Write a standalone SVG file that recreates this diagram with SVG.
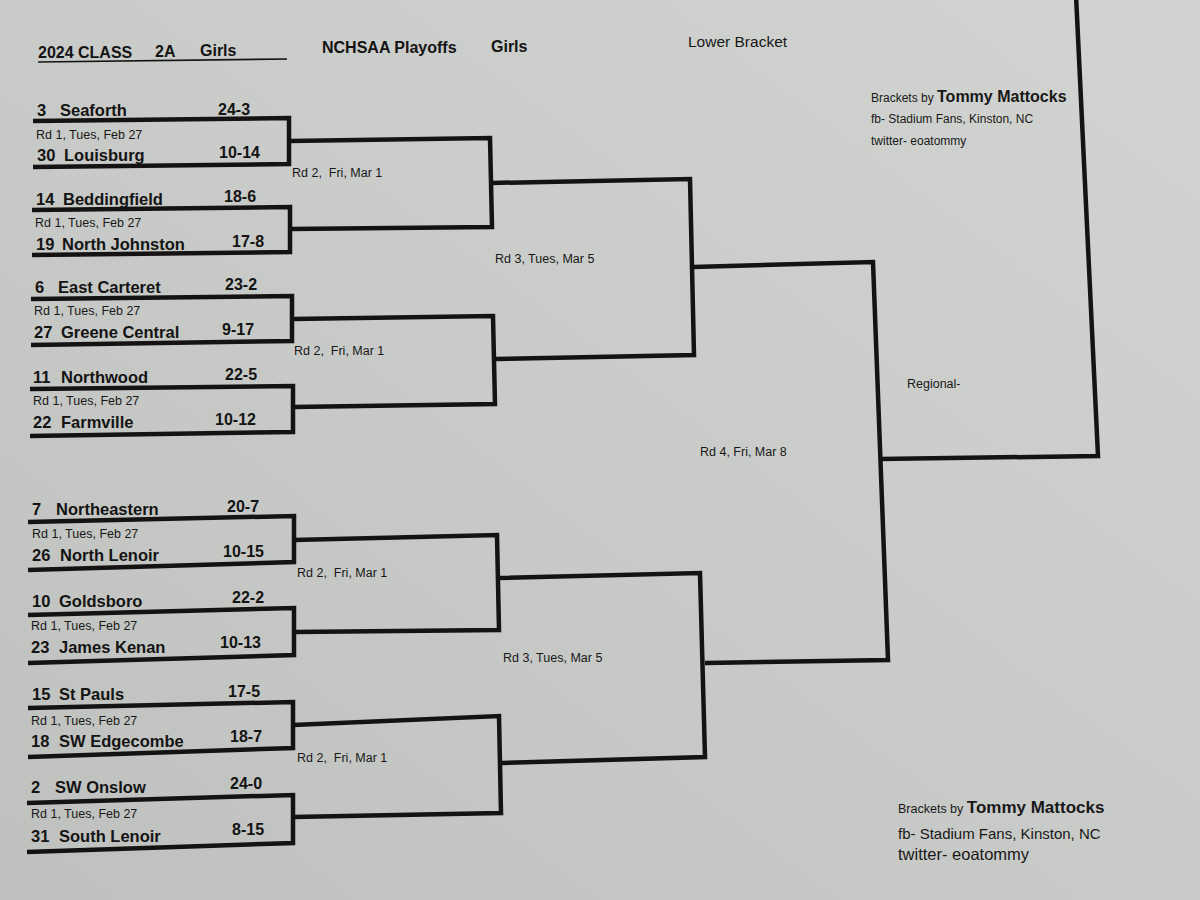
<svg xmlns="http://www.w3.org/2000/svg" width="1200" height="900" viewBox="0 0 1200 900">
<defs>
<linearGradient id="bg" x1="1" y1="0" x2="0" y2="1">
<stop offset="0" stop-color="#d2d4d1"/>
<stop offset="0.5" stop-color="#c9cbc8"/>
<stop offset="1" stop-color="#bfc1be"/>
</linearGradient>
<style>
.ln{fill:none;stroke:#141212;stroke-width:4.5;stroke-linejoin:miter}
.tm{font-family:"Liberation Sans",Arial,sans-serif;font-weight:bold;font-size:16.5px;fill:#141414}
.sc{font-family:"Liberation Sans",Arial,sans-serif;font-weight:bold;font-size:16px;fill:#141414}
.rd{font-family:"Liberation Sans",Arial,sans-serif;font-size:12.5px;fill:#181818}
.hd{font-family:"Liberation Sans",Arial,sans-serif;font-weight:bold;font-size:16px;fill:#141414}
.cr{font-family:"Liberation Sans",Arial,sans-serif;font-size:12px;fill:#181818}
</style>
</defs>
<rect x="0" y="0" width="1200" height="900" fill="url(#bg)"/>

<g id="header">
<text class="hd" x="38" y="58">2024 CLASS</text>
<text class="hd" x="155" y="57">2A</text>
<text class="hd" x="200" y="56">Girls</text>
<line x1="38" y1="62" x2="287" y2="59" stroke="#141414" stroke-width="1.6"/>
<text class="hd" x="322" y="53">NCHSAA Playoffs</text>
<text class="hd" x="491" y="52">Girls</text>
<text class="cr" x="688" y="47" style="font-size:15.5px">Lower Bracket</text>
</g>

<g id="connectors">
<polyline class="ln" points="33,121 289,118 289,164 33,167"/>
<polyline class="ln" points="32,210 290,207 290,252 32,255"/>
<polyline class="ln" points="31,299 292,296 292,341 31,345"/>
<polyline class="ln" points="30,389 293,386 293,432 30,436"/>
<polyline class="ln" points="28,522 294,516 294,562 28,570"/>
<polyline class="ln" points="28,615 294,608 294,655 28,663"/>
<polyline class="ln" points="28,708 293,702 293,748 28,757"/>
<polyline class="ln" points="27,803 293,795 293,843 27,852"/>
<polyline class="ln" points="290,141 490,138 492,227 290,229"/>
<polyline class="ln" points="292,319 493,316 495,404 293,407"/>
<polyline class="ln" points="294,540 497,535 499,630 294,632"/>
<polyline class="ln" points="293,725 499,716 501,813 293,817"/>
<polyline class="ln" points="491,183 690,179 694,355 495,359"/>
<polyline class="ln" points="498,578 700,573 705,757 502,763"/>
<polyline class="ln" points="693,267 873,262 888,660 705,663"/>
<polyline class="ln" points="880,459 1098,456 1076,-5"/>
</g>

<g id="m1">
<text class="tm" y="116"><tspan x="37">3</tspan><tspan x="60">Seaforth</tspan></text>
<text class="sc" x="218" y="115">24-3</text>
<text class="rd" x="36" y="139">Rd 1, Tues, Feb 27</text>
<text class="tm" y="161"><tspan x="37">30</tspan><tspan x="64">Louisburg</tspan></text>
<text class="sc" x="219" y="158">10-14</text>
</g>
<g id="m2">
<text class="tm" y="205"><tspan x="36">14</tspan><tspan x="63">Beddingfield</tspan></text>
<text class="sc" x="224" y="202">18-6</text>
<text class="rd" x="35" y="227">Rd 1, Tues, Feb 27</text>
<text class="tm" y="250"><tspan x="36">19</tspan><tspan x="62">North Johnston</tspan></text>
<text class="sc" x="232" y="247">17-8</text>
</g>
<g id="m3">
<text class="tm" y="293"><tspan x="35">6</tspan><tspan x="58">East Carteret</tspan></text>
<text class="sc" x="225" y="290">23-2</text>
<text class="rd" x="34" y="315">Rd 1, Tues, Feb 27</text>
<text class="tm" y="338"><tspan x="34">27</tspan><tspan x="61">Greene Central</tspan></text>
<text class="sc" x="222" y="335">9-17</text>
</g>
<g id="m4">
<text class="tm" y="383"><tspan x="33">11</tspan><tspan x="61">Northwood</tspan></text>
<text class="sc" x="225" y="380">22-5</text>
<text class="rd" x="33" y="405">Rd 1, Tues, Feb 27</text>
<text class="tm" y="428"><tspan x="33">22</tspan><tspan x="61">Farmville</tspan></text>
<text class="sc" x="215" y="425">10-12</text>
</g>
<g id="m5">
<text class="tm" y="515"><tspan x="32">7</tspan><tspan x="56">Northeastern</tspan></text>
<text class="sc" x="227" y="512">20-7</text>
<text class="rd" x="32" y="538">Rd 1, Tues, Feb 27</text>
<text class="tm" y="561"><tspan x="32">26</tspan><tspan x="60">North Lenoir</tspan></text>
<text class="sc" x="223" y="557">10-15</text>
</g>
<g id="m6">
<text class="tm" y="607"><tspan x="32">10</tspan><tspan x="59">Goldsboro</tspan></text>
<text class="sc" x="232" y="603">22-2</text>
<text class="rd" x="31" y="630">Rd 1, Tues, Feb 27</text>
<text class="tm" y="653"><tspan x="31">23</tspan><tspan x="59">James Kenan</tspan></text>
<text class="sc" x="220" y="648">10-13</text>
</g>
<g id="m7">
<text class="tm" y="700"><tspan x="32">15</tspan><tspan x="59">St Pauls</tspan></text>
<text class="sc" x="228" y="697">17-5</text>
<text class="rd" x="31" y="725">Rd 1, Tues, Feb 27</text>
<text class="tm" y="747"><tspan x="31">18</tspan><tspan x="59">SW Edgecombe</tspan></text>
<text class="sc" x="230" y="742">18-7</text>
</g>
<g id="m8">
<text class="tm" y="793"><tspan x="31">2</tspan><tspan x="55">SW Onslow</tspan></text>
<text class="sc" x="230" y="789">24-0</text>
<text class="rd" x="31" y="818">Rd 1, Tues, Feb 27</text>
<text class="tm" y="842"><tspan x="31">31</tspan><tspan x="59">South Lenoir</tspan></text>
<text class="sc" x="232" y="835">8-15</text>
</g>

<g id="round-labels">
<text class="rd" x="292" y="177" xml:space="preserve">Rd 2,  Fri, Mar 1</text>
<text class="rd" x="294" y="355" xml:space="preserve">Rd 2,  Fri, Mar 1</text>
<text class="rd" x="297" y="577" xml:space="preserve">Rd 2,  Fri, Mar 1</text>
<text class="rd" x="297" y="762" xml:space="preserve">Rd 2,  Fri, Mar 1</text>
<text class="rd" x="495" y="263">Rd 3, Tues, Mar 5</text>
<text class="rd" x="503" y="662">Rd 3, Tues, Mar 5</text>
<text class="rd" x="700" y="456">Rd 4, Fri, Mar 8</text>
<text class="rd" x="907" y="388">Regional-</text>
</g>

<g id="credit-top">
<text class="cr" x="871" y="102">Brackets by <tspan font-weight="bold" font-size="16">Tommy Mattocks</tspan></text>
<text class="cr" x="871" y="123">fb- Stadium Fans, Kinston, NC</text>
<text class="cr" x="871" y="145">twitter- eoatommy</text>
</g>
<g id="credit-bottom">
<text class="cr" x="898" y="813" style="font-size:12.5px">Brackets by <tspan font-weight="bold" font-size="17">Tommy Mattocks</tspan></text>
<text class="cr" x="898" y="839" style="font-size:15px">fb- Stadium Fans, Kinston, NC</text>
<text class="cr" x="898" y="860" style="font-size:16.5px">twitter- eoatommy</text>
</g>
</svg>
